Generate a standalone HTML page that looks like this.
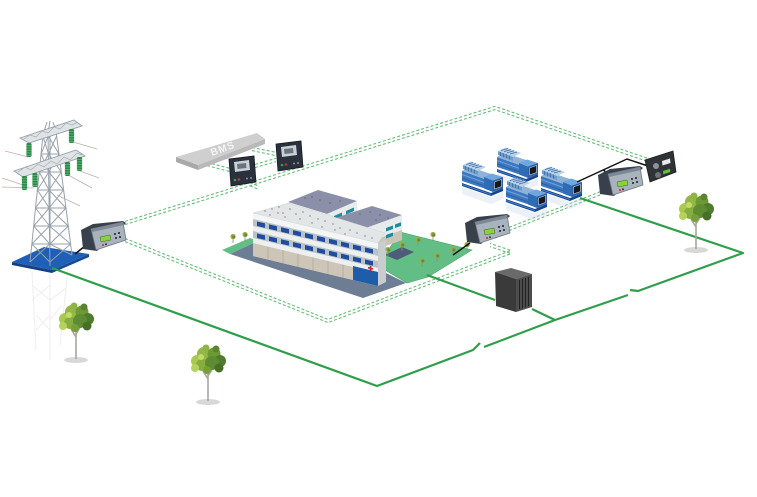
<!DOCTYPE html>
<html><head><meta charset="utf-8"><style>
html,body{margin:0;padding:0;background:#fff;}
svg{display:block;}
</style></head><body>
<svg width="757" height="497" viewBox="0 0 757 497" xmlns="http://www.w3.org/2000/svg">
<defs>
 <g id="eng">
  <polygon points="0,25 29,35 41,30 41,37 29,42 0,32" fill="#c8d8ea" opacity="0.35"/>
  <polygon points="0,21 29,31 41,26 41,29 29,34 0,24" fill="#17468c"/>
  <line x1="0" y1="22.5" x2="29" y2="32.5" stroke="#4d8fd6" stroke-width="0.8"/>
  <polygon points="0,9 24,17.5 24,27 0,19" fill="#3c78c0"/>
  <line x1="0" y1="12.5" x2="24" y2="21" stroke="#6fa3dc" stroke-width="1"/>
  <line x1="0" y1="16" x2="24" y2="24.5" stroke="#2a5c9e" stroke-width="0.8"/>
  <polygon points="0,9 8,5 32,13 24,17.5" fill="#8fb2d6"/>
  <polygon points="1,3 16,9 16,13 1,7" fill="#6e9cc9"/>
  <polygon points="1,3 9,-0.5 24,5 16,9" fill="#b8d2ea"/>
  <path d="M3.5,4 V8 M6.5,5.2 V9.2 M9.5,6.3 V10.3 M12.5,7.5 V11.5 M4,2.5 L11,0.5 M7,3.6 L14,1.6 M10,4.8 L17,2.8 M13,6 L20,4" stroke="#3a6aa5" stroke-width="0.8"/>
  <polygon points="22,15 31,18.5 31,30 22,26.5" fill="#2f6cb6"/>
  <polygon points="22,15 30,11.5 41,15 31,18.5" fill="#6fa6de"/>
  <polygon points="31,18.5 41,15 41,26 31,30" fill="#2a5fa6"/>
  <polygon points="32.5,20 39.5,17.5 39.5,24.5 32.5,27" fill="#15181c" stroke="#cfd8e0" stroke-width="0.6"/>
 </g>
 <g id="relay">
  <polygon points="0,9 12,3 42,0 45,2 16,30 2,28" fill="#37404b"/>
  <polygon points="10,8 42,1 45,19 15,29" fill="#a9b3bd" stroke="#6a7480" stroke-width="0.8"/>
  <polygon points="10,8 42,1 43,4 11,11" fill="#7d8894"/>
  <polygon points="19,16 29,14 30,19 20,21" fill="#86d43a" stroke="#4a5a3a" stroke-width="0.5"/>
  <rect x="33" y="12" width="2" height="2" fill="#3a424c"/>
  <rect x="37" y="11" width="2" height="2" fill="#3a424c"/>
  <rect x="34" y="16" width="2" height="2" fill="#3a424c"/>
  <rect x="38" y="15" width="2" height="2" fill="#3a424c"/>
  <circle cx="22" cy="24" r="1" fill="#d22"/>
  <circle cx="25" cy="23.3" r="1" fill="#2a3038"/>
 </g>
 <g id="ctrl">
  <polygon points="0,3 25,0 27,26 2,30" fill="#2a313c" stroke="#151a20" stroke-width="0.8"/>
  <polygon points="5,6 20,4 21,14 6,16" fill="#c9d0d6"/>
  <polygon points="8,8 17,7 17.5,12 8.5,13" fill="#6a7480"/>
  <circle cx="6" cy="24" r="1.3" fill="#2fa04a"/>
  <circle cx="10" cy="23.5" r="1.3" fill="#c33"/>
  <circle cx="18" cy="22.5" r="1" fill="#8a939c"/>
  <circle cx="22" cy="22" r="1" fill="#8a939c"/>
 </g>
 <g id="tree">
  <ellipse cx="0" cy="1" rx="12" ry="3" fill="#d8d8d8"/>
  <path d="M0,0 L0,-30 M0,-22 L-5,-30 M0,-25 L5,-33" stroke="#aaa59d" stroke-width="1.6" fill="none"/>
  <circle cx="-11" cy="-40" r="6" fill="#a9c94f"/>
  <circle cx="-4" cy="-47" r="7" fill="#93b845"/>
  <circle cx="6" cy="-47" r="6.5" fill="#6e9a36"/>
  <circle cx="12" cy="-40" r="6" fill="#4f7c2c"/>
  <circle cx="-6" cy="-36" r="6" fill="#86ae3e"/>
  <circle cx="4" cy="-38" r="7" fill="#5f8c32"/>
  <circle cx="11" cy="-33" r="4.5" fill="#466f28"/>
  <circle cx="-13" cy="-33" r="4" fill="#b5d25a"/>
  <circle cx="-1" cy="-31" r="4" fill="#759f38"/>
  <circle cx="-7" cy="-44" r="3" fill="#c2dc6a"/>
  <circle cx="8" cy="-52" r="3.5" fill="#5a8530"/>
  <circle cx="-2" cy="-53" r="3.5" fill="#8fb444"/>
 </g>
 <g id="st">
  <line x1="0" y1="0" x2="0" y2="-5" stroke="#8a8a80" stroke-width="0.8"/>
  <circle cx="0" cy="-6.5" r="2.6" fill="#9aae4c"/>
  <circle cx="0.8" cy="-6" r="1.6" fill="#6c8a34"/>
 </g>
 <g id="ins">
  <rect x="-2.6" y="0" width="5.2" height="14" rx="1.5" fill="#2c8a47"/>
  <path d="M-2.6,2.5H2.6M-2.6,5H2.6M-2.6,7.5H2.6M-2.6,10H2.6M-2.6,12.5H2.6" stroke="#63c07c" stroke-width="0.7"/>
 </g>
 <g id="dl" fill="none" stroke="#66bd78" stroke-width="1.1" stroke-dasharray="3 2">
  <path d="M125,223 L495,108 L648,160"/>
  <path d="M125,240 L328,321 L511,252 L490,245"/>
  <path d="M509,229 L601,193"/>
  <path d="M207,164 L230,170"/>
  <path d="M252,149 L276,154"/>
  <path d="M255,166 L276,160"/>
  <path d="M250,184 L259,188"/>
 </g>
</defs>

<!-- pylon reflection -->
<g stroke="#eceef0" stroke-width="1" fill="none">
 <path d="M32,272 L36,350 M50,275 L50,360 M68,268 L60,345 M32,285 L50,300 M50,285 L32,300 M50,300 L66,288 M36,315 L50,330 M50,315 L36,330 M50,320 L62,305"/>
</g>

<!-- dashed double lines -->
<use href="#dl" transform="translate(0,-1.6)"/>
<use href="#dl" transform="translate(0,1.6)"/>

<!-- pylon base -->
<polygon points="12,262 52,270 52,273 12,265" fill="#143f80"/>
<polygon points="52,270 89,254 89,257 52,273" fill="#174a96"/>
<polygon points="12,262 44,247 89,254 52,270" fill="#1f5fb8"/>

<!-- pylon tower -->
<g stroke="#97a1aa" stroke-width="1" fill="none">
 <path d="M50,248 L50,131"/>
 <path d="M30,262 L43,135 M50,266 L48,133 M72,255 L56,131"/>
 <path d="M30,262 L49.7,244 M49.9,262 L31.8,244 M31.8,244 L49.5,226 M49.7,244 L33.7,226 M33.7,226 L49.2,208 M49.5,226 L35.5,208 M35.5,208 L49,190 M49.2,208 L37.4,190 M37.4,190 L48.8,172 M49,190 L39.2,172 M39.2,172 L48.5,154 M48.8,172 L41.1,154 M41.1,154 L48.2,136 M48.5,154 L42.9,136"/>
 <path d="M49.9,262 L70.6,244 M72,255 L49.7,244 M49.7,244 L68.3,226 M70.6,244 L49.5,226 M49.5,226 L65.9,208 M68.3,226 L49.2,208 M49.2,208 L63.6,190 M65.9,208 L49,190 M49,190 L61.3,172 M63.6,190 L48.8,172 M48.8,172 L59,154 M61.3,172 L48.5,154 M48.5,154 L56.6,136 M59,154 L48.2,136"/>
 <path d="M31.8,244 H70.6 M33.7,226 H68.3 M35.5,208 H65.9 M37.4,190 H63.6 M39.2,172 H61.3 M41.1,154 H59"/>
 <path d="M43,135 L47,122 M48,133 L50,121 M56,131 L53,122"/>
</g>
<!-- crossarms -->
<polygon points="20,138 74,120 82,126 29,143" fill="#dfe3e6" stroke="#949ea7" stroke-width="0.9"/>
<path d="M24,139 L30,135 L36,137 L42,131 L48,133 L54,127 L60,129 L66,123 L72,125 L78,122" stroke="#a4adb5" stroke-width="0.7" fill="none"/>
<polygon points="14,171 76,150 85,156 23,177" fill="#dfe3e6" stroke="#949ea7" stroke-width="0.9"/>
<path d="M18,172 L25,167 L31,170 L38,164 L44,167 L51,161 L57,164 L64,157 L70,160 L77,153 L82,155" stroke="#a4adb5" stroke-width="0.7" fill="none"/>
<!-- wires -->
<g stroke="#bfaeae" stroke-width="0.8">
 <line x1="5" y1="151" x2="28" y2="157"/>
 <line x1="2" y1="178" x2="23" y2="185"/>
 <line x1="2" y1="187" x2="34" y2="188"/>
 <line x1="73" y1="142" x2="97" y2="149"/>
 <line x1="80" y1="171" x2="99" y2="178"/>
 <line x1="68" y1="175" x2="92" y2="188"/>
 <line x1="57" y1="195" x2="80" y2="206"/>
</g>
<!-- insulators -->
<use href="#ins" x="71.5" y="129"/>
<use href="#ins" x="29" y="143"/>
<use href="#ins" x="67.5" y="162"/>
<use href="#ins" x="79.5" y="157"/>
<use href="#ins" x="24.5" y="176"/>
<use href="#ins" x="35" y="173"/>

<!-- left relay -->
<path d="M85,246 L75,254" stroke="#111" stroke-width="1.5"/>
<use href="#relay" x="81" y="221"/>

<!-- BMS slab -->
<polygon points="176,157 198,165 198,170 176,162" fill="#a9a9a9"/>
<polygon points="198,165 265,139 265,144 198,170" fill="#b9b9b9"/>
<polygon points="176,157 257,133 265,139 198,165" fill="#cfcfcf"/>
<text x="0" y="0" transform="translate(212,156) rotate(-20)" font-family="Liberation Sans, sans-serif" font-weight="bold" font-size="10" fill="#f4f4f4" letter-spacing="1">BMS</text>

<!-- controllers -->
<use href="#ctrl" x="229" y="156"/>
<use href="#ctrl" x="276" y="141"/>

<!-- building ground -->
<polygon points="222,250 250,238 258,241 230,254" fill="#62be84"/>
<polygon points="378,266 400,232 472,250 428,277 407,283" fill="#62be84" stroke="#4aa86c" stroke-width="0.6"/>
<polygon points="230,254 258,241 380,270 406,283 363,298" fill="#6d7d94"/>
<polygon points="385,255 402,247 414,252 397,260" fill="#4d5c78"/>

<!-- rear block 1 -->
<polygon points="288,202 318,190 357,201 327,214" fill="#8b90a8"/>
<polygon points="327,214 357,201 357,216 327,229" fill="#e8ebec"/>
<polygon points="334,216 342,212.5 342,216 334,219.5" fill="#1f8a9a"/>
<polygon points="346,211 354,207.5 354,211 346,214.5" fill="#1f8a9a"/>
<g fill="#5d6274"><circle cx="305" cy="198" r="0.7"/><circle cx="312" cy="197" r="0.7"/><circle cx="320" cy="200" r="0.7"/><circle cx="330" cy="203" r="0.7"/><circle cx="340" cy="201" r="0.7"/></g>

<!-- rear block 2 -->
<polygon points="335,218 372,206 402,215 366,228" fill="#8b90a8"/>
<polygon points="366,228 402,215 402,240 366,253" fill="#e8ebec"/>
<polygon points="366,243 402,230 402,240 366,253" fill="#cbc4b6"/>
<polygon points="386,228 393,225.5 393,229 386,231.5" fill="#1f8a9a"/>
<polygon points="395,224.5 401,222.3 401,226 395,228" fill="#1f8a9a"/>
<polygon points="386,235 393,232.5 393,236 386,238.5" fill="#1f8a9a"/>
<g fill="#5d6274"><circle cx="360" cy="214" r="0.7"/><circle cx="370" cy="212" r="0.7"/><circle cx="380" cy="215" r="0.7"/><circle cx="388" cy="218" r="0.7"/><circle cx="376" cy="220" r="0.7"/></g>

<!-- front wing -->
<polygon points="378,243 386,240 386,282 378,286" fill="#c9cdd0"/>
<g transform="translate(253,213) skewY(13.5)">
 <rect x="0" y="0" width="125" height="43" fill="#e6e9ea"/>
 <rect x="0" y="0" width="125" height="6" fill="#f4f6f6"/>
 <rect x="0" y="6" width="125" height="7" fill="#b9c2c8"/>
 <g fill="#1f4c9c">
  <rect x="4" y="7.5" width="8" height="4.5"/><rect x="16" y="7.5" width="8" height="4.5"/><rect x="28" y="7.5" width="8" height="4.5"/><rect x="40" y="7.5" width="8" height="4.5"/><rect x="52" y="7.5" width="8" height="4.5"/><rect x="64" y="7.5" width="8" height="4.5"/><rect x="76" y="7.5" width="8" height="4.5"/><rect x="88" y="7.5" width="8" height="4.5"/><rect x="100" y="7.5" width="8" height="4.5"/><rect x="112" y="7.5" width="8" height="4.5"/>
 </g>
 <rect x="0" y="13" width="125" height="5" fill="#eef0f0"/>
 <rect x="0" y="18" width="125" height="7" fill="#b9c2c8"/>
 <g fill="#1f4c9c">
  <rect x="4" y="19.5" width="8" height="4.5"/><rect x="16" y="19.5" width="8" height="4.5"/><rect x="28" y="19.5" width="8" height="4.5"/><rect x="40" y="19.5" width="8" height="4.5"/><rect x="52" y="19.5" width="8" height="4.5"/><rect x="64" y="19.5" width="8" height="4.5"/><rect x="76" y="19.5" width="8" height="4.5"/><rect x="88" y="19.5" width="8" height="4.5"/><rect x="100" y="19.5" width="8" height="4.5"/><rect x="112" y="19.5" width="8" height="4.5"/>
 </g>
 <rect x="0" y="25" width="125" height="5" fill="#eef0f0"/>
 <rect x="0" y="30" width="125" height="13" fill="#cdc6b8"/>
 <path d="M15,30V43M30,30V43M45,30V43M60,30V43M75,30V43M90,30V43" stroke="#b3ab9c" stroke-width="0.8"/>
 <rect x="100" y="29" width="25" height="14" fill="#1e5daa"/>
 <rect x="115" y="26.3" width="5" height="1.6" fill="#d42020"/>
 <rect x="116.7" y="24.6" width="1.6" height="5" fill="#d42020"/>
</g>
<polygon points="253,213 289,203 385,233 378,243" fill="#e2e6e7" stroke="#cfd4d6" stroke-width="0.5"/>
<g fill="#747a84">
 <circle cx="265" cy="211" r="0.7"/><circle cx="272" cy="209" r="0.7"/><circle cx="279" cy="207" r="0.7"/><circle cx="270" cy="215" r="0.7"/><circle cx="283" cy="213" r="0.7"/><circle cx="296" cy="214" r="0.7"/><circle cx="290" cy="209" r="0.7"/><circle cx="303" cy="212" r="0.7"/><circle cx="310" cy="216" r="0.7"/><circle cx="318" cy="219" r="0.7"/><circle cx="300" cy="219" r="0.7"/><circle cx="312" cy="223" r="0.7"/><circle cx="325" cy="221" r="0.7"/><circle cx="333" cy="224" r="0.7"/><circle cx="322" cy="227" r="0.7"/><circle cx="340" cy="228" r="0.7"/><circle cx="350" cy="230" r="0.7"/><circle cx="345" cy="234" r="0.7"/><circle cx="357" cy="233" r="0.7"/><circle cx="365" cy="236" r="0.7"/><circle cx="372" cy="238" r="0.7"/><circle cx="335" cy="230" r="0.7"/><circle cx="285" cy="217" r="0.7"/><circle cx="278" cy="213" r="0.7"/>
</g>

<!-- small trees -->
<use href="#st" x="233" y="243"/>
<use href="#st" x="245" y="241"/>
<use href="#st" x="388" y="256"/>
<use href="#st" x="402" y="251"/>
<use href="#st" x="418" y="246"/>
<use href="#st" x="433" y="241"/>
<use href="#st" x="422" y="267"/>
<use href="#st" x="437" y="262"/>
<use href="#st" x="453" y="256"/>
<use href="#st" x="467" y="251"/>

<!-- engines -->
<use href="#eng" x="497" y="148"/>
<use href="#eng" x="462" y="162"/>
<use href="#eng" x="541" y="167"/>
<use href="#eng" x="506" y="178"/>

<!-- black cables -->
<g stroke="#111" stroke-width="1.5" fill="none">
 <path d="M577,182 L627,159 L648,166"/>
 <path d="M603,170 L609,174"/>
 <path d="M470,243 L453,255"/>
</g>

<!-- relays -->
<use href="#relay" x="598" y="166"/>
<use href="#relay" x="465" y="214"/>

<!-- dark controller -->
<polygon points="645,160 673,151 676,172 650,182" fill="#2f3236" stroke="#1b1d20" stroke-width="0.8"/>
<circle cx="656" cy="166" r="3" fill="#8d9298"/>
<circle cx="658" cy="175" r="3" fill="#6d7278"/>
<polygon points="662,161 670,158.5 670.5,163 662.5,165.5" fill="#e8eaec"/>
<polygon points="663,171 670,168.8 670.3,172 663.3,174.2" fill="#5fc23a"/>

<!-- cabinet -->
<polygon points="495,272 511,268 532,274 516,279" fill="#6a6a6a"/>
<polygon points="495,272 516,279 516,312 496,306" fill="#3a3a3a"/>
<polygon points="516,279 532,274 532,307 516,312" fill="#4d4d4d"/>
<path d="M519.5,280 V309 M522.5,279 V308 M525.5,278 V307 M528.5,277 V306" stroke="#222" stroke-width="1"/>

<!-- green power lines -->
<g stroke="#2f9e4a" stroke-width="2.2" fill="none" stroke-linejoin="round">
 <path d="M52,268 L377,386 L473,350 L480,343"/>
 <path d="M484,347 L555,320 L628,295"/>
 <path d="M630,290 L638,291 L743,253 L580,198"/>
 <path d="M427,275 L495,300"/>
 <path d="M532,309 L555,320"/>
</g>

<!-- trees -->
<use href="#tree" x="76" y="359"/>
<use href="#tree" x="208" y="401"/>
<use href="#tree" x="696" y="249"/>
</svg>
</body></html>
